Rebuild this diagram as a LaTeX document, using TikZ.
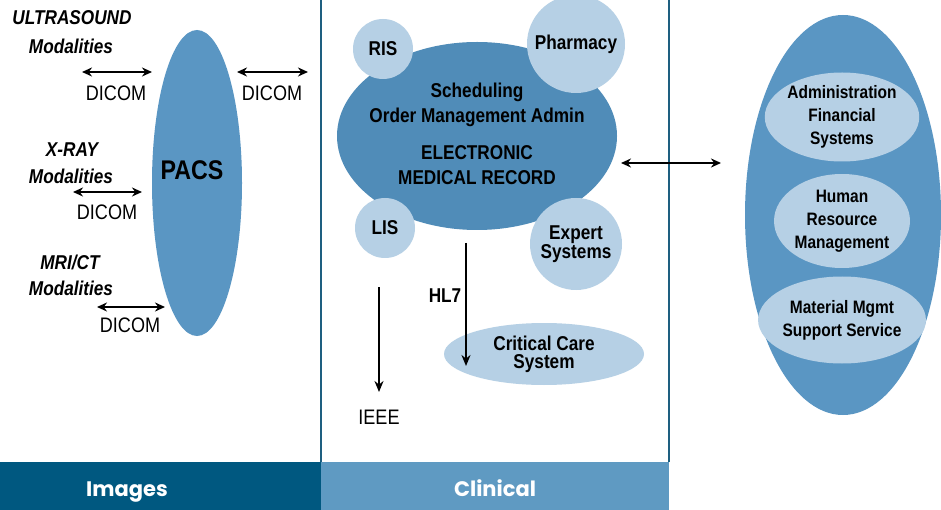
\documentclass[tikz,border=0pt]{standalone}
\usepackage{fontspec}
\setmainfont[FakeStretch=0.86]{Liberation Sans}
\newfontfamily\barfont{Poppins}
\usetikzlibrary{shapes.geometric,arrows.meta}

\definecolor{pacsblue}{RGB}{90,150,195}
\definecolor{emrblue}{RGB}{80,140,184}
\definecolor{paleblue}{RGB}{182,208,229}
\definecolor{barnavy}{RGB}{0,88,128}
\definecolor{barblue}{RGB}{95,154,194}
\definecolor{panelline}{RGB}{30,95,128}

\tikzset{
  lbl/.style={inner sep=0pt, align=center, font=\fontsize{20}{25}\selectfont\bfseries},
  tightlbl/.style={inner sep=0pt, align=center, font=\fontsize{20}{18}\selectfont\bfseries},
  adminlbl/.style={inner sep=0pt, align=center, font=\fontsize{18}{23}\selectfont\bfseries},
  modality/.style={inner sep=0pt, align=center, font=\fontsize{20}{25}\selectfont\bfseries\itshape},
  proto/.style={inner sep=0pt, font=\fontsize{21}{25}\selectfont},
  blob/.style={ellipse, inner sep=0pt, fill=#1},
  bubble/.style={circle, inner sep=0pt, fill=paleblue},
  bartext/.style={inner sep=0pt, anchor=base, text=white, font=\fontsize{21}{25}\barfont\bfseries},
  link/.style={line width=2pt, -{Stealth[length=11pt,width=9pt]}},
  dual/.style={line width=2pt, {Stealth[length=10pt,width=9pt]}-{Stealth[length=10pt,width=9pt]}}
}

\begin{document}
\begin{tikzpicture}[x=1pt,y=-1pt]
  \fill[white] (0,0) rectangle (941,510);
  \useasboundingbox (0,0) rectangle (941,510);

  % bottom bars and clinical panel
  \fill[barnavy] (0,462) rectangle (321,510);
  \fill[barblue] (321,462) rectangle (669,510);
  \draw[panelline, line width=2pt] (321,0) -- (321,462);
  \draw[panelline, line width=2pt] (669,0) -- (669,462);
  \node[bartext] (images) at (127,496) {Images};
  \node[bartext] (clinical) at (495,496) {Clinical};

  % images
  \node[blob=pacsblue, minimum width=90pt, minimum height=306pt] (pacs) at (197,183) {};
  \node[inner sep=0pt, font=\fontsize{27}{30}\selectfont\bfseries] (pacslbl) at (192,170) {PACS};

  \node[modality] (us) at (72,18) {ULTRASOUND};
  \node[modality] (usmod) at (71,46) {Modalities};
  \coordinate (us-l) at (82,72);
  \coordinate (us-r) at (152,72);
  \draw[dual] (us-l) -- (us-r);
  \node[proto] (dicom1) at (116,93) {DICOM};

  \coordinate (pacs-l) at (237,72);
  \coordinate (pacs-r) at (308,72);
  \draw[dual] (pacs-l) -- (pacs-r);
  \node[proto] (dicom2) at (272,93) {DICOM};

  \node[modality] (xray) at (72,150) {X-RAY};
  \node[modality] (xraymod) at (71,176) {Modalities};
  \coordinate (xr-l) at (73,192);
  \coordinate (xr-r) at (142,192);
  \draw[dual] (xr-l) -- (xr-r);
  \node[proto] (dicom3) at (107,212) {DICOM};

  \node[modality] (mri) at (70,262) {MRI/CT};
  \node[modality] (mrimod) at (71,288) {Modalities};
  \coordinate (mr-l) at (97,307);
  \coordinate (mr-r) at (165,307);
  \draw[dual] (mr-l) -- (mr-r);
  \node[proto] (dicom4) at (130,325) {DICOM};

  % clinical
  \node[blob=emrblue, minimum width=280pt, minimum height=188pt] (emr) at (477,136) {};
  \node[lbl] (sched) at (477,105) {Scheduling\\Order Management Admin};
  \node[lbl] (emrlbl) at (477,165) {ELECTRONIC\\MEDICAL RECORD};
  \node[bubble, minimum size=60pt, lbl] (ris) at (383,49) {RIS};
  \node[bubble, minimum size=98pt, lbl] (pharmacy) at (576,44) {Pharmacy};
  \node[bubble, minimum size=60pt, lbl] (lis) at (385,228) {LIS};
  \node[bubble, minimum size=92pt, tightlbl] (expert) at (576,244) {Expert\\Systems};

  \node[blob=paleblue, minimum width=200pt, minimum height=62pt, tightlbl] (ccs) at (544,354) {Critical Care\\System};
  \coordinate (hl7-top) at (466,243);
  \coordinate (hl7-end) at (466,366);
  \draw[link] (hl7-top) -- (hl7-end);
  \node[proto, font=\fontsize{20}{25}\selectfont\bfseries] (hl7) at (445,296) {HL7};

  \coordinate (ieee-top) at (379,287);
  \coordinate (ieee-end) at (379,392);
  \draw[link] (ieee-top) -- (ieee-end);
  \node[proto] (ieee) at (379,417) {IEEE};

  \coordinate (emr-r) at (621,163);
  \coordinate (admin-l) at (721,163);
  \draw[dual] (emr-r) -- (admin-l);

  % administration
  \node[blob=pacsblue, minimum width=196pt, minimum height=400pt] (admin) at (843,215) {};
  \node[blob=paleblue, minimum width=145pt, minimum height=89pt, adminlbl] (finance) at (842,117) {Administration\\Financial\\Systems};
  \node[blob=paleblue, minimum width=136pt, minimum height=94pt, adminlbl] (hr) at (842,221) {Human\\Resource\\Management};
  \node[blob=paleblue, minimum width=144pt, minimum height=87pt, adminlbl] (material) at (842,320) {Material Mgmt\\Support Service};
\end{tikzpicture}
\end{document}
